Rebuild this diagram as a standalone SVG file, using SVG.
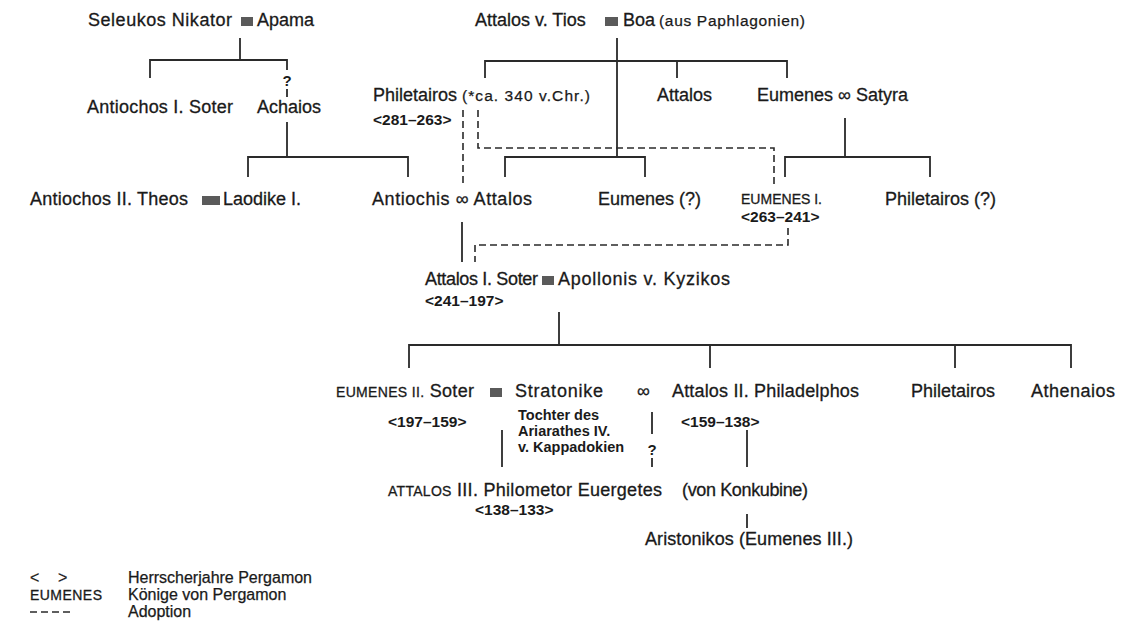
<svg xmlns="http://www.w3.org/2000/svg" width="1136" height="636" viewBox="0 0 1136 636">
<style>
text{font-family:"Liberation Sans",Arial,sans-serif;fill:#1a1a1a}
.n{font-size:18px;stroke:#1a1a1a;stroke-width:0.3}
.s{font-size:15.5px;stroke:#1a1a1a;stroke-width:0.25}
.y{font-size:15.5px;font-weight:bold}
.sc{font-size:14px;stroke:#1a1a1a;stroke-width:0.3}
.t{font-size:14.5px;font-weight:bold}
.q{font-size:15px;font-weight:bold}
.l{font-size:16px;stroke:#1a1a1a;stroke-width:0.25}
.ln{stroke:#2a2a2a;stroke-width:1.8;fill:none}
.ad{stroke:#2a2a2a;stroke-width:1.6;fill:none;stroke-dasharray:7 4}
.m{fill:#5a5a5a}
</style>
<rect width="1136" height="636" fill="#fff"/>
<g id="connectors">
<path class="ln" d="M240,38V60 M150,78V60H287V70"/>
<path class="ln" d="M287,89V97"/>
<path class="ln" d="M617,38V157 M485,78V61H787V78 M677,61V78"/>
<path class="ln" d="M287,122V157 M248,177V157H408V177"/>
<path class="ln" d="M505,177V157H645V177"/>
<path class="ln" d="M845,118V157 M785,177V157H930V177"/>
<path class="ad" d="M463,110V187"/>
<path class="ad" d="M478,110V148H774V187"/>
<path class="ln" d="M462,222V262"/>
<path class="ad" d="M788,228V245H475V262"/>
<path class="ln" d="M559,312V345 M409,368V345H1071V368 M710,345V368 M955,345V368"/>
<path class="ln" d="M502,430V467"/>
<path class="ln" d="M652,412V434 M652,458V467"/>
<path class="ln" d="M747,430V467"/>
<path class="ln" d="M747,514V528"/>
</g>
<g id="seleukos"><text class="n" x="88" y="26" textLength="144">Seleukos Nikator</text><rect class="m" x="241" y="17" width="12" height="9"/><text class="n" x="257" y="26">Apama</text></g>
<g id="attalos-tios"><text class="n" x="475" y="26">Attalos v. Tios</text><rect class="m" x="605" y="17" width="13" height="9"/><text class="n" x="623" y="26">Boa</text><text class="s" x="659" y="26" textLength="146">(aus Paphlagonien)</text></g>
<g id="antiochos1"><text class="n" x="87" y="113" textLength="146">Antiochos I. Soter</text></g>
<g id="achaios"><text class="q" x="287" y="86" text-anchor="middle">?</text><text class="n" x="257" y="113">Achaios</text></g>
<g id="philetairos"><text class="n" x="373" y="101">Philetairos</text><text class="s" x="462" y="101" textLength="128">(*ca. 340 v.Chr.)</text><text class="y" x="373" y="125">&lt;281–263&gt;</text></g>
<g id="attalos"><text class="n" x="657" y="101">Attalos</text></g>
<g id="eumenes-satyra"><text class="n" x="757" y="101">Eumenes ∞ Satyra</text></g>
<g id="antiochos2"><text class="n" x="30" y="205" textLength="158">Antiochos II. Theos</text><rect class="m" x="202" y="196" width="18" height="9"/><text class="n" x="223" y="205">Laodike I.</text></g>
<g id="antiochis-attalos"><text class="n" x="372" y="205" textLength="160">Antiochis ∞ Attalos</text></g>
<g id="eumenes-q"><text class="n" x="598" y="205">Eumenes (?)</text></g>
<g id="eumenes1"><text class="sc" x="741" y="204" textLength="81">EUMENES I.</text><text class="y" x="741" y="222">&lt;263–241&gt;</text></g>
<g id="philetairos-q"><text class="n" x="885" y="205">Philetairos (?)</text></g>
<g id="attalos1"><text class="n" x="425" y="285" textLength="113">Attalos I. Soter</text><rect class="m" x="542" y="276" width="12" height="9"/><text class="n" x="558" y="285" textLength="172">Apollonis v. Kyzikos</text><text class="y" x="425" y="306">&lt;241–197&gt;</text></g>
<g id="eumenes2"><text class="n" x="336" y="397" textLength="138"><tspan class="sc">EUMENES II.</tspan> Soter</text><text class="y" x="388" y="427">&lt;197–159&gt;</text></g>
<g id="stratonike"><rect class="m" x="490" y="388" width="12" height="9"/><text class="n" x="515" y="397" textLength="88">Stratonike</text><text class="t" x="518" y="420">Tochter des</text><text class="t" x="518" y="436">Ariarathes IV.</text><text class="t" x="518" y="452">v. Kappadokien</text><text class="q" x="652" y="455" text-anchor="middle">?</text></g>
<g id="attalos2"><text class="n" x="637" y="397">∞</text><text class="n" x="672" y="397" textLength="187">Attalos II. Philadelphos</text><text class="y" x="681" y="427">&lt;159–138&gt;</text></g>
<g id="philetairos2"><text class="n" x="911" y="397">Philetairos</text></g>
<g id="athenaios"><text class="n" x="1031" y="397" textLength="84">Athenaios</text></g>
<g id="attalos3"><text class="n" x="388" y="496" textLength="274"><tspan class="sc">ATTALOS</tspan> III. Philometor Euergetes</text><text class="y" x="475" y="515">&lt;138–133&gt;</text></g>
<g id="konkubine"><text class="n" x="682" y="496" textLength="126">(von Konkubine)</text></g>
<g id="aristonikos"><text class="n" x="645" y="545" textLength="208">Aristonikos (Eumenes III.)</text></g>
<g id="legend">
<text class="l" x="30" y="583">&lt;<tspan x="58">&gt;</tspan></text>
<text class="l" x="128" y="583" textLength="184">Herrscherjahre Pergamon</text>
<text class="sc" x="30" y="600" textLength="72">EUMENES</text>
<text class="l" x="128" y="600">Könige von Pergamon</text>
<path class="ad" d="M30,612H72"/>
<text class="l" x="128" y="617">Adoption</text>
</g>
</svg>
